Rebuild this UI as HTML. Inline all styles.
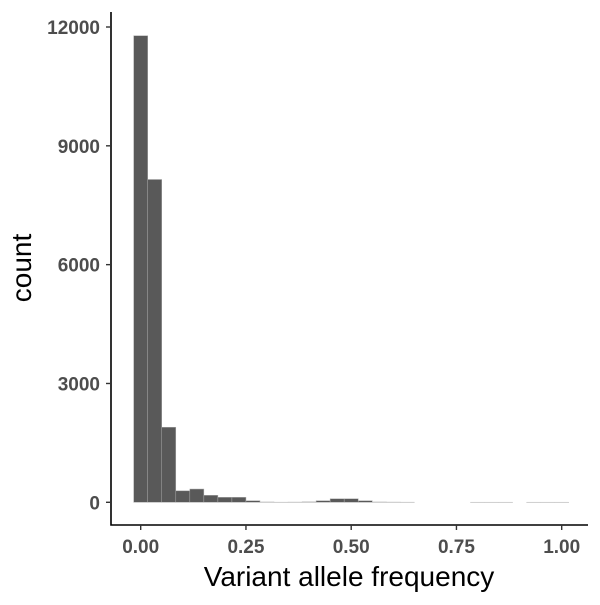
<!DOCTYPE html>
<html><head><meta charset="utf-8"><style>
body{margin:0;background:#fff}
text{font-family:"Liberation Sans",sans-serif}
</style></head><body>
<svg id="c" width="600" height="600"></svg>
<script>
const binCenters=[0,1,2,3,4,5,6,7,8,9,10,11,12,13,14,15,16,17,18,19,20,21,22,23,24,25,26,27,28,29,30];
const counts=[11780,8150,1895,290,335,177,126,126,40,8,3,5,10,40,90,90,40,8,5,3,0,0,0,0,2,2,2,0,2,2,2];
const xTicks=[0,0.25,0.5,0.75,1.0];
const xTickLabels=["0.00","0.25","0.50","0.75","1.00"];
const yTicks=[0,3000,6000,9000,12000];
const ns="http://www.w3.org/2000/svg",svg=document.getElementById('c');
const x=v=>140.7+v*421, y=v=>502.3-v*475.3/12000, bw=421/30;
function el(t,a,p){const e=document.createElementNS(ns,t);for(const k in a)e.setAttribute(k,a[k]);(p||svg).appendChild(e);return e;}
const g=el('g',{});


counts.forEach((c,i)=>{const cx=x(binCenters[i]/30);
 const r=el('rect',{x:cx-bw/2,y:y(c),width:bw,height:Math.max(0,y(0)-y(c)),fill:'#595959',stroke:'#ababab','stroke-width':c>0?0.5:0.3},g);
 
 });
const ax=el('path',{d:'M111 12V525H588',fill:'none',stroke:'#000','stroke-width':1.6});


xTicks.forEach((v,i)=>{el('line',{x1:x(v),x2:x(v),y1:525,y2:530,stroke:'#333','stroke-width':1.4});
 const t=el('text',{x:x(v),y:553,'text-anchor':'middle','font-size':19,'font-weight':'bold',fill:'#4d4d4d'});t.textContent=xTickLabels[i];
 
 });
yTicks.forEach(v=>{el('line',{x1:106,x2:111,y1:y(v),y2:y(v),stroke:'#333','stroke-width':1.4});
 const t=el('text',{x:100,y:y(v)+7,'text-anchor':'end','font-size':19,'font-weight':'bold',fill:'#4d4d4d'});t.textContent=v;
 
 });
const xt=el('text',{x:349,y:586,'text-anchor':'middle','font-size':28,fill:'#000'});xt.textContent='Variant allele frequency';


const yt=el('text',{x:0,y:0,transform:'translate(31,268) rotate(-90)','text-anchor':'middle','font-size':28,fill:'#000'});yt.textContent='count';


</script>
</body></html>
